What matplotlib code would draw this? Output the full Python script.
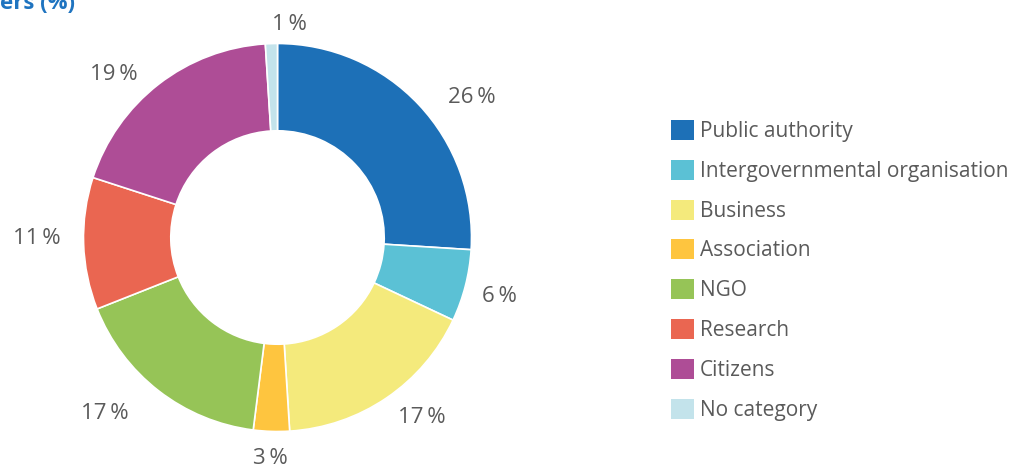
import numpy as np
import matplotlib
matplotlib.use("Agg")
from matplotlib import pyplot as plt
from matplotlib.patches import Patch

# data
categories = ["Public authority", "Intergovernmental organisation", "Business",
              "Association", "NGO", "Research", "Citizens", "No category"]
shares = [26, 6, 17, 3, 17, 11, 19, 1]
colors = ["#1d70b7", "#5bc1d5", "#f4ea7c", "#fec53f", "#96c457",
          "#ea6651", "#ae4d96", "#c3e3eb"]

# label placement: distance (in radii) and angle nudge (deg) per slice
label_dist = [1.24, 1.18, 1.18, 1.13, 1.26, 1.24, 1.20, 1.11]
label_nudge = [-7, 0, 5, 0, -7, -2, 7, -5]

plt.rcParams['font.family'] = ['Open Sans', 'DejaVu Sans']
text_grey = "#5a5a5a"

W, H = 1017, 469
fig = plt.figure(figsize=(W / 100, H / 100), dpi=100)

# cut-off title at the top
fig.text(0.0, (H - 9) / H, "ers (%)", color="#1f74c0", fontsize=16,
         fontweight="bold", ha="left", va="baseline")

# donut
cx, cy, r = 277.5, H - 237.5, 194
ax = fig.add_axes([(cx - r) / W, (cy - r) / H, 2 * r / W, 2 * r / H])
wedges, _ = ax.pie(shares, colors=colors, startangle=90, counterclock=False,
                   radius=1,
                   wedgeprops=dict(width=0.45, edgecolor="white", linewidth=1.2))
for w, v, d, n in zip(wedges, shares, label_dist, label_nudge):
    ang = np.deg2rad((w.theta1 + w.theta2) / 2 + n)
    ax.text(d * np.cos(ang), d * np.sin(ang) - 0.012, f"{v}\u2009%", color=text_grey,
            fontsize=16, ha="center", va="center", clip_on=False)
ax.set_xlim(-1, 1)
ax.set_ylim(-1, 1)
ax.set_aspect("equal")
ax.axis("off")

# legend
handles = [Patch(facecolor=c, edgecolor="none") for c in colors]
fig.legend(handles, categories, loc="upper left",
           bbox_to_anchor=(671 / W, (H - 120) / H), frameon=False,
           fontsize=15, handlelength=1.1, handleheight=1.1,
           handletextpad=0.29, labelspacing=0.85, labelcolor=text_grey,
           borderaxespad=0, borderpad=0)

fig.savefig("out.png", dpi=100)
